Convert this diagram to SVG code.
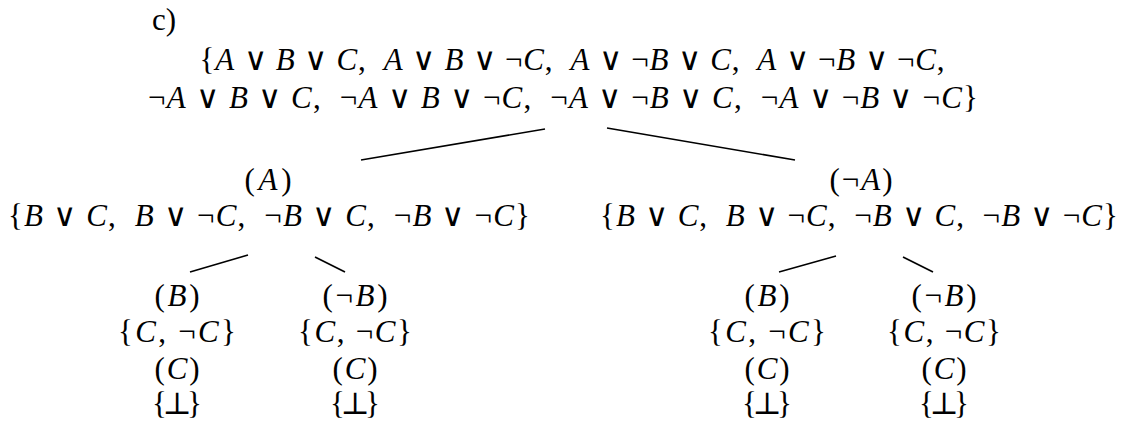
<svg xmlns="http://www.w3.org/2000/svg" width="1128" height="431" viewBox="0 0 1128 431">
<style>
text{font-family:"Liberation Serif","DejaVu Serif",serif;font-size:31px;fill:#000;text-anchor:middle}
.v{font-style:italic}
.o{font-family:"DejaVu Sans",sans-serif;font-weight:200;font-size:32px}
.edge{stroke:#000;stroke-width:1.6;fill:none}
</style>
<rect width="1128" height="431" fill="#fff"/>
<text x="164" y="30">c)</text>
<g id="root">
<text x="572" y="70" textLength="745" lengthAdjust="spacing">{<tspan class="v">A</tspan> <tspan class="o">∨</tspan> <tspan class="v">B</tspan> <tspan class="o">∨</tspan> <tspan class="v">C</tspan>,&#160;&#160;<tspan class="v">A</tspan> <tspan class="o">∨</tspan> <tspan class="v">B</tspan> <tspan class="o">∨</tspan> ¬<tspan class="v">C</tspan>,&#160;&#160;<tspan class="v">A</tspan> <tspan class="o">∨</tspan> ¬<tspan class="v">B</tspan> <tspan class="o">∨</tspan> <tspan class="v">C</tspan>,&#160;&#160;<tspan class="v">A</tspan> <tspan class="o">∨</tspan> ¬<tspan class="v">B</tspan> <tspan class="o">∨</tspan> ¬<tspan class="v">C</tspan>,</text>
<text x="563" y="108" textLength="830" lengthAdjust="spacing">¬<tspan class="v">A</tspan> <tspan class="o">∨</tspan> <tspan class="v">B</tspan> <tspan class="o">∨</tspan> <tspan class="v">C</tspan>,&#160;&#160;¬<tspan class="v">A</tspan> <tspan class="o">∨</tspan> <tspan class="v">B</tspan> <tspan class="o">∨</tspan> ¬<tspan class="v">C</tspan>,&#160;&#160;¬<tspan class="v">A</tspan> <tspan class="o">∨</tspan> ¬<tspan class="v">B</tspan> <tspan class="o">∨</tspan> <tspan class="v">C</tspan>,&#160;&#160;¬<tspan class="v">A</tspan> <tspan class="o">∨</tspan> ¬<tspan class="v">B</tspan> <tspan class="o">∨</tspan> ¬<tspan class="v">C</tspan>}</text>
</g>
<g id="nodeA">
<text x="268" y="190" textLength="47" lengthAdjust="spacing">(<tspan class="v">A</tspan>)</text>
<text x="269" y="226" textLength="522" lengthAdjust="spacing">{<tspan class="v">B</tspan> <tspan class="o">∨</tspan> <tspan class="v">C</tspan>,&#160;&#160;<tspan class="v">B</tspan> <tspan class="o">∨</tspan> ¬<tspan class="v">C</tspan>,&#160;&#160;¬<tspan class="v">B</tspan> <tspan class="o">∨</tspan> <tspan class="v">C</tspan>,&#160;&#160;¬<tspan class="v">B</tspan> <tspan class="o">∨</tspan> ¬<tspan class="v">C</tspan>}</text>
</g>
<g id="nodeNotA">
<text x="861" y="190" textLength="63" lengthAdjust="spacing">(¬<tspan class="v">A</tspan>)</text>
<text x="859" y="226" textLength="518" lengthAdjust="spacing">{<tspan class="v">B</tspan> <tspan class="o">∨</tspan> <tspan class="v">C</tspan>,&#160;&#160;<tspan class="v">B</tspan> <tspan class="o">∨</tspan> ¬<tspan class="v">C</tspan>,&#160;&#160;¬<tspan class="v">B</tspan> <tspan class="o">∨</tspan> <tspan class="v">C</tspan>,&#160;&#160;¬<tspan class="v">B</tspan> <tspan class="o">∨</tspan> ¬<tspan class="v">C</tspan>}</text>
</g>
<g id="nodeA_B">
<text x="177" y="306" textLength="45" lengthAdjust="spacing">(<tspan class="v">B</tspan>)</text>
<text x="177" y="342" textLength="118" lengthAdjust="spacing">{<tspan class="v">C</tspan>, ¬<tspan class="v">C</tspan>}</text>
<text x="177" y="379" textLength="45" lengthAdjust="spacing">(<tspan class="v">C</tspan>)</text>
<text x="177" y="414" textLength="50" lengthAdjust="spacing">{⊥}</text>
</g>
<g id="nodeA_notB">
<text x="355" y="306" textLength="65" lengthAdjust="spacing">(¬<tspan class="v">B</tspan>)</text>
<text x="355" y="342" textLength="114" lengthAdjust="spacing">{<tspan class="v">C</tspan>, ¬<tspan class="v">C</tspan>}</text>
<text x="355" y="379" textLength="45" lengthAdjust="spacing">(<tspan class="v">C</tspan>)</text>
<text x="355" y="414" textLength="50" lengthAdjust="spacing">{⊥}</text>
</g>
<g id="nodeNotA_B">
<text x="767" y="306" textLength="45" lengthAdjust="spacing">(<tspan class="v">B</tspan>)</text>
<text x="767" y="342" textLength="118" lengthAdjust="spacing">{<tspan class="v">C</tspan>, ¬<tspan class="v">C</tspan>}</text>
<text x="767" y="379" textLength="45" lengthAdjust="spacing">(<tspan class="v">C</tspan>)</text>
<text x="767" y="414" textLength="50" lengthAdjust="spacing">{⊥}</text>
</g>
<g id="nodeNotA_notB">
<text x="944" y="306" textLength="65" lengthAdjust="spacing">(¬<tspan class="v">B</tspan>)</text>
<text x="944" y="342" textLength="114" lengthAdjust="spacing">{<tspan class="v">C</tspan>, ¬<tspan class="v">C</tspan>}</text>
<text x="944" y="379" textLength="45" lengthAdjust="spacing">(<tspan class="v">C</tspan>)</text>
<text x="944" y="414" textLength="50" lengthAdjust="spacing">{⊥}</text>
</g>
<g id="connectors">
<line class="edge" x1="545" y1="129" x2="361" y2="160"/>
<line class="edge" x1="607" y1="128" x2="795" y2="160"/>
<line class="edge" x1="248" y1="255" x2="190" y2="272"/>
<line class="edge" x1="315" y1="257" x2="345" y2="272"/>
<line class="edge" x1="836" y1="256" x2="779" y2="272"/>
<line class="edge" x1="903" y1="257" x2="933" y2="272"/>
</g>
</svg>
